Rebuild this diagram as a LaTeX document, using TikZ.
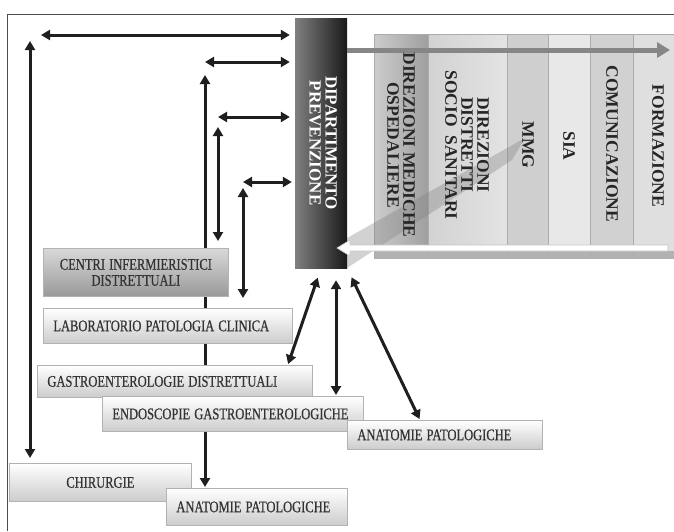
\documentclass[tikz,border=0pt]{standalone}
\usepackage{fontspec}
\setmainfont{Liberation Serif}
\newfontfamily\boxfont{Liberation Serif}[FakeBold=0.6]
\newcommand\tallt[1]{\scalebox{1}[1.3]{#1}}
\usetikzlibrary{arrows.meta,calc}
\pgfdeclarelayer{bottom}
\pgfdeclarelayer{background}
\pgfsetlayers{bottom,background,main}
\begin{document}
\begin{tikzpicture}[x=1pt,y=-1pt,
  dbl/.style={{Triangle[length=9pt,width=10pt]}-{Triangle[length=9pt,width=10pt]}, line width=3pt, black!88},
  lbox/.style={draw=gray!60, line width=0.8pt, top color=white, bottom color=gray!40, font=\boxfont\fontsize{12.5}{16}\selectfont, text=black!80, inner xsep=10pt, inner ysep=0pt, align=left, anchor=north west},
  dbox/.style={lbox, top color=gray!30, bottom color=gray!80, align=center},
  coltext/.style={rotate=-90, font=\bfseries\fontsize{17.5}{16}\selectfont, align=center, text=black!85, inner sep=0pt},
  colfill/.style={draw=gray!60, line width=0.8pt},
]
\begin{pgfonlayer}{bottom}
\fill[white] (0,0) rectangle (674,531);
\end{pgfonlayer}
\useasboundingbox (0,0) rectangle (674,531);
\draw[black!70, line width=1pt] (674,14) -- (7,14) -- (7,531);

\begin{scope}
\clip (0,0) rectangle (674,531);
% panel columns
\fill[colfill, left color=gray!40, right color=gray!75] (374,34) rectangle (428,258);
\fill[colfill, left color=gray!35, right color=gray!22] (428,34) rectangle (507,258);
\fill[colfill, fill=gray!38] (507,34) rectangle (548,258);
\fill[colfill, fill=gray!18] (548,34) rectangle (590,258);
\fill[colfill, fill=gray!36] (590,34) rectangle (633,258);
\fill[colfill, fill=gray!25] (633,34) rectangle (684,258);
\fill[gray!60] (374,251) rectangle (684,258);
\foreach \x in {374,428,507,548,590,633} \draw[gray!65, line width=0.8pt] (\x,34) -- (\x,258);
\draw[gray!65, line width=0.8pt] (374,34) -- (684,34);
% diagonal translucent band
\fill[gray, opacity=0.35] (347,238) -- (525,138) -- (512,160) -- (347,268) -- cycle;
\end{scope}

% dark department box
\node[left color=black!50, right color=black!90, minimum width=52pt, minimum height=250pt, inner sep=0pt,
      font=\bfseries\fontsize{17}{15}\selectfont, text=white] (dp) at (321,143)
  {\rotatebox{-90}{\begin{tabular}{@{}c@{}}DIPARTIMENTO\\PREVENZIONE\end{tabular}}};

% grey arrow to the right
\coordinate (ga) at (670,50);
\draw[gray!95, line width=5pt, -{Triangle[length=13pt,width=15pt]}] (dp.east |- ga) -- (ga);
% white arrow back into the department
\fill[white, draw=gray!45, line width=0.7pt] (668,245) -- (350,245) -- (350,240) -- (337,248) -- (350,256) -- (350,251) -- (668,251) -- cycle;

% column texts
\node[coltext] (c1) at (401,145) {DIREZIONI MEDICHE\\OSPEDALIERE};
\node[coltext] (c2) at (467,145) {DIREZIONI\\DISTRETTI\\SOCIO\ \ SANITARI};
\node[coltext] (c3) at (528,145) {MMG};
\node[coltext] (c4) at (569,146) {SIA};
\node[coltext] (c5) at (612,144) {COMUNICAZIONE};
\node[coltext] (c6) at (658,146) {FORMAZIONE};

% left boxes
\node[dbox, text width=165pt, minimum height=48pt] (cen) at (43,248) {\tallt{CENTRI INFERMIERISTICI}\\\tallt{DISTRETTUALI}};
\node[lbox, text width=229pt, minimum height=35pt] (lab) at (43,308) {\tallt{LABORATORIO PATOLOGIA CLINICA}};
\node[lbox, text width=255pt, minimum height=32pt] (gas) at (37,365) {\tallt{GASTROENTEROLOGIE DISTRETTUALI}};
\node[lbox, text width=241pt, minimum height=35pt] (endo) at (102,396) {\tallt{ENDOSCOPIE GASTROENTEROLOGICHE}};
\node[lbox, text width=175pt, minimum height=29pt] (anr) at (347,420) {\tallt{ANATOMIE PATOLOGICHE}};
\node[lbox, align=center, text width=162pt, minimum height=38pt] (chir) at (9,463) {\tallt{CHIRURGIE}};
\node[lbox, text width=161pt, minimum height=37pt] (anb) at (166,488) {\tallt{ANATOMIE PATOLOGICHE}};

% connectors (behind the boxes)
\begin{pgfonlayer}{background}
\coordinate (h1) at (41,35);
\coordinate (v1) at (30,41);
\coordinate (h2) at (205,62);
\coordinate (v2) at (205,75);
\coordinate (h3) at (218,117);
\coordinate (v3) at (218,127);
\coordinate (h4) at (243,182);
\coordinate (v4) at (243,188);
\draw[dbl, shorten >=5pt] (h1) -- (h1 -| dp.west);
\draw[dbl, shorten >=5pt] (v1) -- (v1 |- chir.north);
\draw[dbl, shorten >=5pt] (h2) -- (h2 -| dp.west);
\draw[dbl, shorten >=1pt] (v2) -- (v2 |- anb.north);
\draw[dbl, shorten >=5pt] (h3) -- (h3 -| dp.west);
\draw[dbl, shorten >=7pt] (v3) -- (v3 |- cen.north);
\draw[dbl, shorten >=3pt] (h4) -- (h4 -| dp.west);
\draw[dbl, shorten >=10pt] (v4) -- (v4 |- lab.north);
\coordinate (d2) at ($(dp.south)+(15,0)$);
\draw[dbl, shorten <=10pt, shorten >=1pt] (dp.south) -- ($(gas.north east)+(-25,0)$);
\draw[dbl, shorten <=12pt, shorten >=1pt] (d2) -- (d2 |- endo.north);
\draw[dbl, shorten <=10pt, shorten >=1pt] (dp.south east) -- ($(anr.north west)+(73,0)$);
\end{pgfonlayer}
\end{tikzpicture}
\end{document}
